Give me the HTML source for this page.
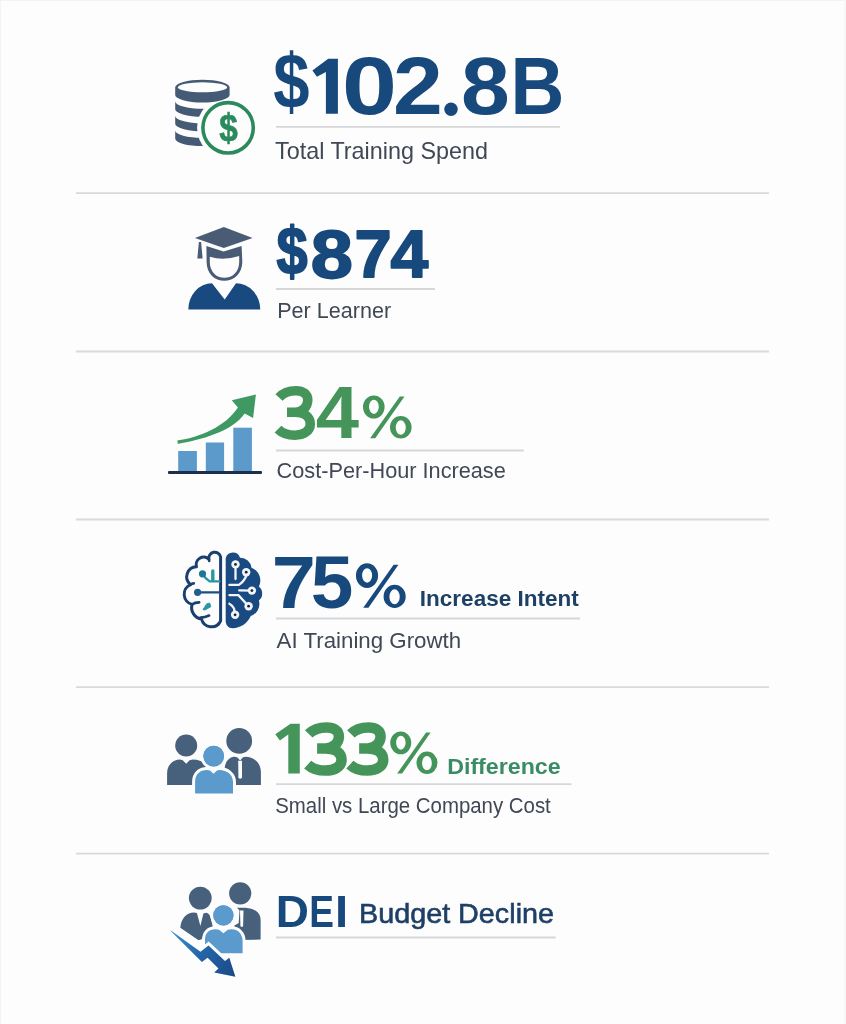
<!DOCTYPE html>
<html><head><meta charset="utf-8">
<style>
html,body{margin:0;padding:0;background:#fdfdfd;width:846px;height:1024px;overflow:hidden}
svg{display:block;position:absolute;left:0;top:0;will-change:transform}
text{font-family:"Liberation Sans",sans-serif}
.big{font-weight:bold}
.lbl{font-weight:bold}
.sub{fill:#404855}
.blue{fill:#17497c}
.blue.st{stroke:#17497c}
.green.st{stroke:#45955a}
.green3{stroke:#45955a}
.green{fill:#45955a}
.sep{stroke:#d8d9d9;stroke-width:1.8}
.ul{stroke:#d5d7d9;stroke-width:1.8}
</style></head>
<body>
<svg width="846" height="1024" viewBox="0 0 846 1024">
<!-- edges -->
<rect x="0" y="0" width="846" height="1" fill="#f3f3f3"/>
<rect x="0" y="0" width="1" height="1024" fill="#f4f4f4"/>
<rect x="844" y="0" width="2" height="1024" fill="#f7f7f7"/>
<!-- separators -->
<line class="sep" x1="76" y1="193.2" x2="769" y2="193.2"/>
<line class="sep" x1="76" y1="351.5" x2="769" y2="351.5"/>
<line class="sep" x1="76" y1="519.5" x2="769" y2="519.5"/>
<line class="sep" x1="76" y1="687.2" x2="769" y2="687.2"/>
<line class="sep" x1="76" y1="853.6" x2="769" y2="853.6"/>

<!-- underlines -->
<line class="ul" x1="276" y1="126.9" x2="560" y2="126.9"/>
<line class="ul" x1="276" y1="289" x2="435" y2="289"/>
<line class="ul" x1="276" y1="450.5" x2="523.8" y2="450.5"/>
<line class="ul" x1="276" y1="618.5" x2="580" y2="618.5"/>
<line class="ul" x1="276" y1="784.2" x2="571.5" y2="784.2"/>
<line class="ul" x1="276" y1="937.5" x2="555.8" y2="937.5"/>

<!-- icon 1: coins -->
<defs>
<mask id="m1"><rect x="160" y="60" width="110" height="100" fill="#fff"/><circle cx="228.1" cy="127.8" r="31" fill="#000"/></mask>
</defs>
<g fill="#455a74">
<path fill-rule="evenodd" d="M175.2,87.3 A27.2,7.5 0 0 1 229.6,87.3 L229.6,95 A27.2,7.5 0 0 1 175.2,95 Z M177.8,87.3 A24.6,5 0 0 0 227.2,87.3 A24.6,5 0 0 0 177.8,87.3 Z"/>
<g mask="url(#m1)">
<path d="M175.2,101.3 A27.2,7.5 0 0 0 229.6,101.3 L229.6,109.2 A27.2,7.5 0 0 1 175.2,109.2 Z"/>
<path d="M175.2,115.8 A27.2,7.5 0 0 0 229.6,115.8 L229.6,123.7 A27.2,7.5 0 0 1 175.2,123.7 Z"/>
<path d="M175.2,130.4 A27.2,7.5 0 0 0 229.6,130.4 L229.6,138.6 A27.2,7.5 0 0 1 175.2,138.6 Z"/>
<path d="M175.2,95 A27.2,7.5 0 0 0 229.6,95 L229.6,87.3 Z" opacity="0"/>
</g>
</g>
<circle cx="228.1" cy="127.8" r="25.2" fill="none" stroke="#2a8a5e" stroke-width="3.6"/>
<text transform="translate(228.4,140.7) scale(0.84,1)" font-size="39.7" font-weight="bold" fill="#2a8a5e" stroke="#2a8a5e" stroke-width="0.7" text-anchor="middle">$</text>

<!-- icon 2: graduate -->
<g fill="#4a5c75">
<path d="M194.9,238 L223.8,227.1 L252.6,238 L223.8,247.9 Z"/>
<path d="M198.9,242 L201.1,242 L202.6,258.4 L197.3,258.4 Z"/>
<path fill-rule="evenodd" d="M206.4,245.9 L223.6,251.5 L241.6,245.9 L242.3,262 C242.3,273.5 234,280.8 224.3,280.8 C214.6,280.8 206.6,273.5 206.6,262 Z M209.8,256.8 Q223.6,261 239.2,256 L239.2,262 C239.2,271.8 232.5,277.8 224.4,277.8 C216.3,277.8 209.8,271.8 209.8,262 Z"/>
</g>
<path fill="#184a80" d="M188.3,309.6 A23.7,26.3 0 0 1 212,283.3 L224.7,299.5 L236,283.3 A24.3,26.3 0 0 1 260.3,309.6 Z"/>

<!-- icon 3: chart -->
<g fill="#5b9acb">
<rect x="178.2" y="451" width="18.7" height="21"/>
<rect x="205.8" y="442.5" width="18.3" height="29.5"/>
<rect x="233.3" y="427.7" width="18.6" height="44.3"/>
</g>
<rect x="168" y="471.1" width="94" height="3" rx="1" fill="#1c2f4c"/>
<path fill="#3e9963" d="M177.3,440.6 C200,437 225,427 237.9,407.5 L231.8,400.2 L255.9,394.5 L253.1,418.1 L244.7,413.6 C232,432 200,440 177.9,444 Z"/>

<!-- icon 4: brain -->
<path fill="none" stroke="#1b3f6e" stroke-width="3" stroke-linejoin="round" stroke-linecap="round" d="M220.6,621 L220.6,557 A5.9,5.9 0 0 0 208.9,559.2 A7.5,7.5 0 0 0 196.5,566.8 A10,10 0 0 0 190.5,584.6 A10.5,10.5 0 0 0 192.1,604.4 A11.5,11.5 0 0 0 201.5,619 A10.2,10.2 0 0 0 220.6,621"/>
<path fill="none" stroke="#1b3f6e" stroke-width="2.6" stroke-linecap="round" d="M190.5,584.6 Q192,583.6 193.8,583.4 M192.1,604.4 Q195,602.5 199.2,602.4 M200.6,617.6 Q205,617.5 209.1,615.5 M208.9,559.2 L209.2,561"/>
<path fill="#1a4a82" d="M225.7,621 L225.7,558 A7.4,7.4 0 0 1 240,557.8 A11.1,11.1 0 0 1 251.5,567.7 A13.6,13.6 0 0 1 258.9,586.5 A9.1,9.1 0 0 1 258.9,600.5 A12.7,12.7 0 0 1 250.7,616 C247.5,623.5 240,628.2 232.7,628.2 C228.2,628.2 225.7,625 225.7,621 Z"/>
<!-- left circuits -->
<g stroke-linecap="round" fill="none">
<path stroke="#2a98a4" stroke-width="2.4" d="M202.5,573.8 Q205,578.5 209.5,581.2 L219.3,581.4"/>
<path stroke="#2a98a4" stroke-width="3.4" d="M212.8,571 L212.8,580.5"/>
<path stroke="#1b4f80" stroke-width="2.2" d="M197.6,592.3 L219.3,592.3"/>
</g>
<circle cx="202.5" cy="573.8" r="3.6" fill="#1f7893"/>
<circle cx="197.6" cy="592.3" r="3.6" fill="#1f5f92"/>
<path fill="#2a98a4" stroke="#2a98a4" stroke-width="1" stroke-linejoin="round" d="M203,609.6 L206.7,603.9 L209.6,603 L210.8,606.7 L204.9,610 Z"/>
<!-- right circuits -->
<g stroke="#f2f6fa" stroke-width="2.3" fill="none" stroke-linecap="round" stroke-linejoin="round">
<path d="M235.5,564.4 L235.5,579.1"/>
<path d="M246.2,572.2 L246.2,576 Q244,581.5 238.8,584.9 L229.4,584.9"/>
<path d="M251.9,590.6 L239.2,590.4"/>
<path d="M229.4,595.1 L238.4,595.1 L248.6,606.2"/>
<path d="M235.1,614.8 L234,608.5 Q232,605 229.4,603.7"/>
</g>
<g fill="#f2f6fa">
<circle cx="235.5" cy="564.4" r="4.2"/>
<circle cx="246.2" cy="572.2" r="4.2"/>
<circle cx="251.9" cy="590.6" r="4.2"/>
<circle cx="248.6" cy="606.2" r="4.2"/>
<circle cx="235.1" cy="614.8" r="4.2"/>
</g>
<g fill="#14243a">
<circle cx="235.5" cy="564.4" r="1.4"/>
<circle cx="246.2" cy="572.2" r="1.4"/>
<circle cx="251.9" cy="590.6" r="1.4"/>
<circle cx="248.6" cy="606.2" r="1.4"/>
<circle cx="235.1" cy="614.8" r="1.4"/>
</g>

<!-- icon 5: people -->
<g fill="#47607b">
<circle cx="186.2" cy="745.5" r="11"/>
<path d="M167.1,785 L167.1,773 C167.1,765 173,759.6 180.1,759.6 L182.7,760.3 L186.2,763.8 L189.6,760.3 L192.8,759.6 C203,759.6 210,766 210,775 L210,785 Z"/>
<circle cx="239.2" cy="740.9" r="12.9"/>
<path d="M224.6,785 L224.6,770 C224.6,762 229,756.8 235,756.8 L237.5,757.6 L240.1,760.5 L242.7,757.6 L245,756.8 C254,756.8 260.9,763 260.9,772 L260.9,785 Z"/>
</g>
<path fill="#fbfdfe" d="M238.2,760.8 L242,760.8 L242,777.5 Q240.1,780 238.4,777.5 Z"/>
<g fill="#5a9acc" stroke="#fdfdfd" stroke-width="6" paint-order="stroke">
<circle cx="213.7" cy="756.1" r="10.4"/>
<path d="M195.1,793.6 L195.1,782 C195.1,774.5 200,770.1 206.8,770.1 L210,770.6 L213.5,773.8 L217,770.6 L219.3,770.1 C227,770.1 233,775 233,782 L233,793.6 Z"/>
</g>
<circle cx="213.7" cy="756.1" r="10.4" fill="#5a9acc"/>

<!-- icon 6: DEI -->
<defs>
<linearGradient id="ag" x1="170" y1="930" x2="235" y2="976" gradientUnits="userSpaceOnUse">
<stop offset="0" stop-color="#3b93d3"/><stop offset="0.5" stop-color="#2464a8"/><stop offset="1" stop-color="#1a4a86"/>
</linearGradient>
</defs>
<g fill="#47607b">
<circle cx="200.3" cy="898.1" r="11.4"/>
<path d="M180.3,927.8 C181,918 187,912.4 193.9,912.4 L196.9,913 L200.4,926 L203.4,913.6 L206.3,912.7 C210,913.2 211,918 212.5,925.5 L214,935 L198.6,940.2 Z"/>
<circle cx="240.2" cy="893.3" r="11.1"/>
<path d="M232,940 L234.5,925.6 L238.7,922.9 L239.5,910.6 L237,907.8 L245.5,907.8 C254,908.5 260.6,912 260.6,920 L260.6,939.6 Z"/>
</g>
<path fill="#fbfdfe" d="M240,910.4 L243.5,910.4 L243.1,926 Q241.8,928.2 240.4,926 Z"/>
<g fill="#5a9acc" stroke="#fdfdfd" stroke-width="6" paint-order="stroke">
<circle cx="223.4" cy="915.4" r="10.1"/>
<path d="M205,953.2 L205,940 C205,933 209,929.3 215.4,929.3 L219,929.8 L223.4,933.2 L227.8,929.8 L231.4,929.3 C238,929.3 242.6,934 242.6,941 L242.6,953.2 Z"/>
</g>
<circle cx="223.4" cy="915.4" r="10.1" fill="#5a9acc"/>
<path fill="url(#ag)" stroke="#fdfdfd" stroke-width="6" paint-order="stroke" stroke-linejoin="miter" d="M170.2,929.9 L200.5,951.7 L208.5,945.5 L225,961 L229.3,957.8 L235.4,976.7 L214.2,972.5 L218.5,968.4 L207.6,957.8 L201.9,962.1 L171.5,931.8 Z"/>

<!-- BIG START -->
<text class="big blue" transform="translate(273.14,108.28) scale(0.8468,1)" font-size="77.04">$</text>
<text class="big blue" transform="translate(342.09,114.21) scale(1.2169,1)" font-size="81.21">0</text>
<text class="big blue" transform="translate(393.00,114.30) scale(1.1024,1)" font-size="81.20">2</text>
<text class="big blue" transform="translate(461.12,114.21) scale(1.0800,1)" font-size="81.21">8</text>
<text class="big blue" transform="translate(510.51,114.10) scale(0.9248,1)" font-size="80.67">B</text>
<circle class="blue" cx="451" cy="109.3" r="6.7"/>
<path class="blue" d="M312.4,70.4 L328.2,58.8 L337.9,58.8 L337.9,113.8 L325.9,113.8 L325.9,72 L316.9,76.8 Z"/>
<text class="big blue st" transform="translate(276.56,273.50) scale(0.8478,1)" font-size="66.02" stroke-width="1.8" stroke-linejoin="round">$</text>
<text class="big blue st" transform="translate(310.70,277.73) scale(1.1060,1)" font-size="68.50" stroke-width="1.8" stroke-linejoin="round">8</text>
<text class="big blue st" transform="translate(354.42,277.40) scale(1.0008,1)" font-size="66.86" stroke-width="1.8" stroke-linejoin="round">7</text>
<text class="big blue st" transform="translate(390.47,277.40) scale(1.0164,1)" font-size="66.86" stroke-width="1.8" stroke-linejoin="round">4</text>
<text class="big green" transform="translate(315.82,437.60) scale(1.0606,1)" font-size="73.40">4</text>
<path class="green3" fill="none" stroke-width="9.5" d="M278.99,397.48 C283.01,393.01 289.00,390.72 295.99,390.72 C302.98,390.72 307.78,394.02 307.78,399.98 C307.78,407.00 302.02,412.32 294.99,412.32 L286.99,412.32 M294.99,412.32 C304.47,412.32 310.31,417.00 310.31,424.03 C310.31,430.99 303.73,435.20 294.99,435.20 C287.99,435.20 282.00,433.02 277.99,429.03"/>
<path class="green" fill-rule="evenodd" d="M363.00,407.00 A10.80,11.60 0 1 0 384.60,407.00 A10.80,11.60 0 1 0 363.00,407.00 Z M369.00,406.85 A4.90,7.05 0 1 0 378.80,406.85 A4.90,7.05 0 1 0 369.00,406.85 Z M390.00,427.20 A10.80,11.30 0 1 0 411.60,427.20 A10.80,11.30 0 1 0 390.00,427.20 Z M395.70,427.55 A5.05,7.25 0 1 0 405.80,427.55 A5.05,7.25 0 1 0 395.70,427.55 Z M399.80,396.40 L404.50,396.40 L375.20,438.20 L370.10,438.20 Z"/>
<text class="big blue" transform="translate(271.69,607.60) scale(1.0611,1)" font-size="74.71">7</text>
<text class="big blue" transform="translate(310.84,607.77) scale(1.0216,1)" font-size="74.95">5</text>
<path class="blue" fill-rule="evenodd" d="M355.95,575.62 A11.06,11.92 0 1 0 378.06,575.62 A11.06,11.92 0 1 0 355.95,575.62 Z M362.09,575.47 A5.01,7.25 0 1 0 372.12,575.47 A5.01,7.25 0 1 0 362.09,575.47 Z M383.58,596.38 A11.06,11.62 0 1 0 405.70,596.38 A11.06,11.62 0 1 0 383.58,596.38 Z M389.42,596.74 A5.17,7.45 0 1 0 399.76,596.74 A5.17,7.45 0 1 0 389.42,596.74 Z M393.62,564.73 L398.43,564.73 L368.44,607.69 L363.22,607.69 Z"/>
<path class="green3" fill="none" stroke-width="10.5" d="M308.73,733.96 C312.94,729.62 319.22,727.39 326.55,727.39 C333.88,727.39 338.91,730.60 338.91,736.39 C338.91,743.21 332.87,748.38 325.50,748.38 L317.11,748.38 M325.50,748.38 C335.44,748.38 341.56,752.93 341.56,759.76 C341.56,766.53 334.66,770.62 325.50,770.62 C318.16,770.62 311.88,768.50 307.67,764.62"/>
<path class="green3" fill="none" stroke-width="10.5" d="M350.88,733.96 C355.03,729.62 361.21,727.39 368.43,727.39 C375.65,727.39 380.60,730.60 380.60,736.39 C380.60,743.21 374.65,748.38 367.39,748.38 L359.14,748.38 M367.39,748.38 C377.18,748.38 383.21,752.93 383.21,759.76 C383.21,766.53 376.42,770.62 367.39,770.62 C360.17,770.62 353.99,768.50 349.84,764.62"/>
<path class="green" fill-rule="evenodd" d="M390.25,742.84 A10.50,11.44 0 1 0 411.25,742.84 A10.50,11.44 0 1 0 390.25,742.84 Z M396.09,742.69 A4.76,6.95 0 1 0 405.61,742.69 A4.76,6.95 0 1 0 396.09,742.69 Z M416.50,762.76 A10.50,11.14 0 1 0 437.50,762.76 A10.50,11.14 0 1 0 416.50,762.76 Z M422.04,763.10 A4.91,7.15 0 1 0 431.86,763.10 A4.91,7.15 0 1 0 422.04,763.10 Z M426.03,732.39 L430.60,732.39 L402.11,773.60 L397.15,773.60 Z"/>
<path class="green" d="M275.3,734.3 L290.5,723.7 L299.8,723.7 L299.8,773.4 L288.3,773.4 L288.3,734.6 L279.9,740.4 Z"/>
<text class="big blue" transform="translate(275.72,926.80) scale(1.0510,1)" font-size="43.75">D</text>
<text class="big blue" transform="translate(309.22,926.80) scale(0.8474,1)" font-size="43.75">E</text>
<text class="big blue" transform="translate(335.04,926.80) scale(1.0790,1)" font-size="43.75">I</text>
<!-- BIG END -->
<!-- row 1 -->
<text class="sub" x="275" y="159" font-size="24" textLength="213" lengthAdjust="spacingAndGlyphs">Total Training Spend</text>
<!-- row 2 -->
<text class="sub" x="277.2" y="317.7" font-size="22.7" textLength="114" lengthAdjust="spacingAndGlyphs">Per Learner</text>
<!-- row 3 -->
<text class="sub" x="276.6" y="478.2" font-size="22.7" textLength="229.2" lengthAdjust="spacingAndGlyphs">Cost-Per-Hour Increase</text>
<!-- row 4 -->
<text class="lbl" x="419.8" y="606.3" font-size="22.4" textLength="159" lengthAdjust="spacingAndGlyphs" fill="#1e4064">Increase Intent</text>
<text class="sub" x="276.6" y="647.8" font-size="22.7" textLength="184.6" lengthAdjust="spacingAndGlyphs">AI Training Growth</text>
<!-- row 5 -->
<text class="lbl" x="447.2" y="773.9" font-size="22.3" textLength="113.5" lengthAdjust="spacingAndGlyphs" fill="#3a8c64">Difference</text>
<text class="sub" x="275.2" y="813.3" font-size="22.7" textLength="275.6" lengthAdjust="spacingAndGlyphs">Small vs Large Company Cost</text>
<!-- row 6 -->
<text x="359" y="922.5" font-size="28.3" textLength="195" lengthAdjust="spacingAndGlyphs" fill="#1e3f66" stroke="#1e3f66" stroke-width="0.6">Budget Decline</text>
</svg>
</body></html>
